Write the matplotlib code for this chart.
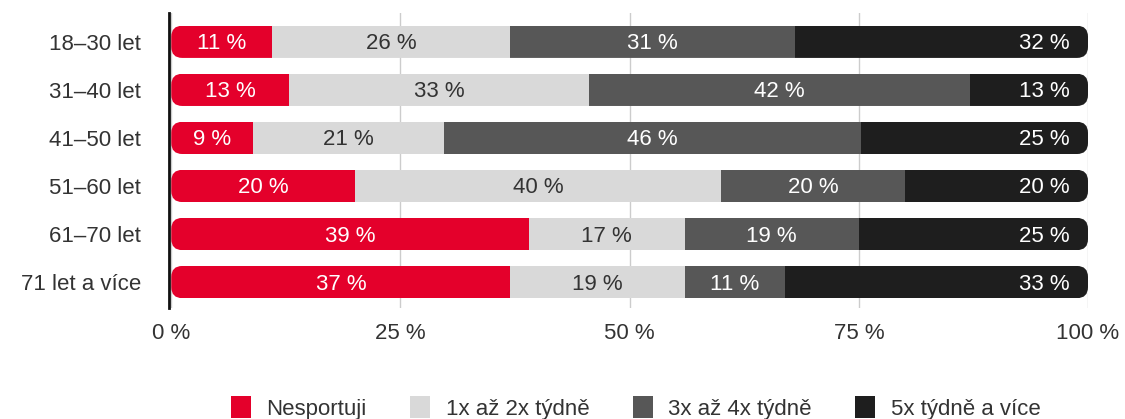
import matplotlib
matplotlib.use("Agg")
import matplotlib.pyplot as plt
from matplotlib.patches import FancyBboxPatch, Patch
import numpy as np

plt.rcParams['font.family'] = ['Liberation Sans', 'DejaVu Sans']

# podíly odpovědí podle věkové skupiny (v %)
skupiny = ['18–30 let', '31–40 let', '41–50 let', '51–60 let', '61–70 let', '71 let a více']
nesportuji = [11, 13, 9, 20, 39, 37]
jednou_dvakrat = [26, 33, 21, 40, 17, 19]
trikrat_ctyrikrat = [31, 42, 46, 20, 19, 11]
petkrat_vice = [32, 13, 25, 20, 25, 33]

kategorie = ['Nesportuji', '1x až 2x týdně', '3x až 4x týdně', '5x týdně a více']
barvy = ['#E4002B', '#D9D9D9', '#575757', '#1E1E1E']
barvy_textu = ['white', '#333333', 'white', 'white']
osa_x = [0, 25, 50, 75, 100]
fs = 16

fig = plt.figure(figsize=(11.25, 4.19), dpi=100)
ax = fig.add_axes([169 / 1125, 1 - 308 / 419, 919 / 1125, 295 / 419])

ax.set_xlim(-0.25, 100)
ax.set_ylim(len(skupiny) - 0.46, -0.6)
ax.set_xticks(osa_x)
ax.set_xticklabels([f'{v} %' for v in osa_x], fontsize=fs, color='#333333')
ax.set_yticks(range(len(skupiny)))
ax.set_yticklabels(skupiny, fontsize=fs, color='#333333')
ax.tick_params(length=0)
ax.tick_params(axis='y', pad=20)
ax.tick_params(axis='x', pad=11)
for s in ['top', 'right', 'bottom']:
    ax.spines[s].set_visible(False)
ax.spines['left'].set_linewidth(2)
ax.spines['left'].set_color('#111111')
ax.spines['left'].set_zorder(5)
ax.grid(axis='x', color='#cccccc', linewidth=1)
ax.set_axisbelow(True)

# přepočet pixelů na jednotky dat kvůli zaobleným koncům
p0 = ax.transData.transform((0, 0))
px_x = ax.transData.transform((1, 0))[0] - p0[0]
px_y = abs(ax.transData.transform((0, 1))[1] - p0[1])
radius = 11

vyska = 0.67
data = np.array([nesportuji, jednou_dvakrat, trikrat_ctyrikrat, petkrat_vice], dtype=float)
for i in range(len(skupiny)):
    radek = data[:, i]
    sirky = radek / radek.sum() * 100
    levy = np.concatenate([[0], np.cumsum(sirky)[:-1]])

    obrys = FancyBboxPatch((0, i - vyska / 2), 100, vyska,
                           boxstyle=f'round,pad=0,rounding_size={radius / px_x}',
                           mutation_aspect=px_x / px_y,
                           facecolor='none', edgecolor='none', transform=ax.transData)
    ax.add_patch(obrys)

    bary = ax.barh([i] * 4, sirky, left=levy, height=vyska, color=barvy, linewidth=0, zorder=3)
    for b in bary:
        b.set_clip_path(obrys)

    ty = i + 2 / px_y
    for k in range(4):
        txt = f'{int(radek[k])} %'
        if k == 3:
            ax.text(100 - 18 / px_x, ty, txt, ha='right', va='center',
                    fontsize=fs, color=barvy_textu[k], zorder=4)
        else:
            ax.text(levy[k] + sirky[k] / 2, ty, txt, ha='center', va='center',
                    fontsize=fs, color=barvy_textu[k], zorder=4)

handles = [Patch(facecolor=c, edgecolor='none') for c in barvy]
fig.legend(handles, kategorie, loc='center', bbox_to_anchor=(0.565, 1 - 408 / 419),
           ncol=4, frameon=False, fontsize=fs, handlelength=0.9, handleheight=1.15,
           handletextpad=0.7, columnspacing=1.95, labelcolor='#333333')

fig.savefig('out.png', dpi=100)
